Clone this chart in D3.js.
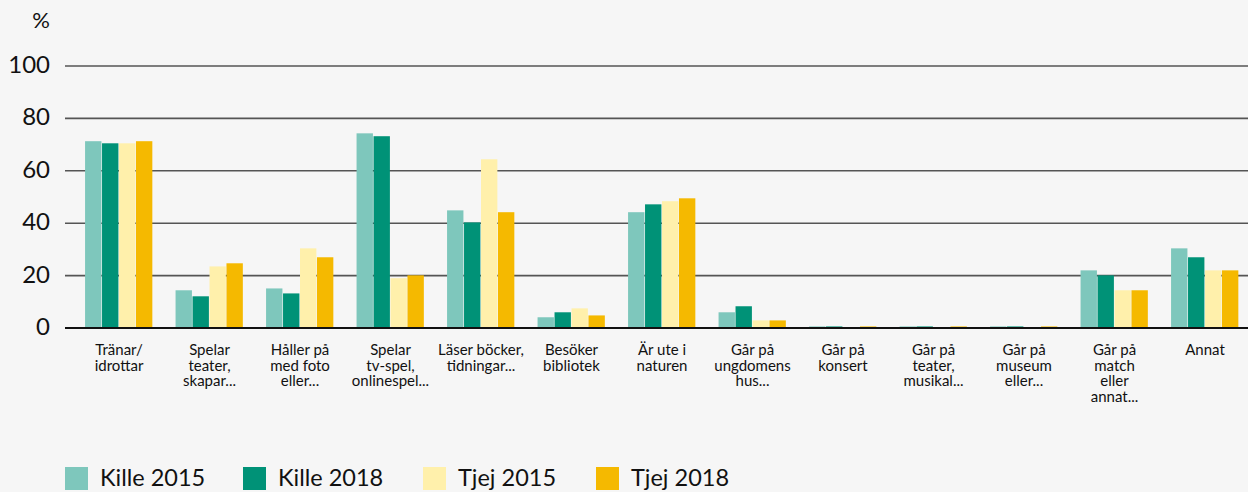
<!DOCTYPE html>
<html><head><meta charset="utf-8">
<script src="https://cdn.jsdelivr.net/npm/d3@7"></script>
<style>
html,body{margin:0;padding:0;background:#f6f6f6;}
svg{display:block;}
text{font-family:Lato,"Open Sans",sans-serif;fill:#111;}
</style></head>
<body>
<svg id="chart" width="1248" height="492"></svg>
<script>
const categories = [
  "Tränar/\nidrottar",
  "Spelar\nteater,\nskapar...",
  "Håller på\nmed foto\neller...",
  "Spelar\ntv-spel,\nonlinespel...",
  "Läser böcker,\ntidningar...",
  "Besöker\nbibliotek",
  "Är ute i\nnaturen",
  "Går på\nungdomens\nhus...",
  "Går på\nkonsert",
  "Går på\nteater,\nmusikal...",
  "Går på\nmuseum\neller...",
  "Går på\nmatch\neller\nannat...",
  "Annat"
];
const seriesNames = ["Kille 2015", "Kille 2018", "Tjej 2015", "Tjej 2018"];
const kille2015 = [71.3, 14.4, 15.1, 74.3, 44.9, 4.1, 44.2, 6.0, 0.6, 0.6, 0.6, 22.0, 30.4];
const kille2018 = [70.5, 12.1, 13.2, 73.2, 40.3, 6.0, 47.2, 8.3, 0.6, 0.6, 0.6, 20.1, 27.0];
const tjej2015  = [70.5, 23.5, 30.4, 19.0, 64.4, 7.5, 48.4, 2.9, 0.3, 0.3, 0.3, 14.4, 22.0];
const tjej2018  = [71.3, 24.7, 27.0, 20.1, 44.2, 4.8, 49.5, 2.9, 0.6, 0.6, 0.6, 14.4, 22.0];
const yTicks = [0, 20, 40, 60, 80, 100];
const unitLabel = "%";

const colors = ["#7ec7bc", "#009277", "#fff0ab", "#f5b900"];
const seriesValues = [kille2015, kille2018, tjej2015, tjej2018];

const svg = d3.select("#chart");
const x0 = d3.scaleBand().domain(d3.range(categories.length))
  .range([73.75, 1250.25]).paddingInner(0.25).paddingOuter(0.125);
const x1 = d3.scaleBand().domain(d3.range(seriesNames.length)).range([0, x0.bandwidth()]);
const y = d3.scaleLinear().domain([0, 100]).range([328, 66]);

// gridlines
svg.append("g").selectAll("line").data(yTicks.filter(d => d > 0)).join("line")
  .attr("x1", 65).attr("x2", 1248)
  .attr("y1", d => y(d)).attr("y2", d => y(d))
  .attr("stroke", "#555").attr("stroke-width", 1.6);

// y labels
svg.append("g").selectAll("text").data(yTicks).join("text")
  .attr("x", 50).attr("y", d => y(d) + 7)
  .attr("text-anchor", "end").style("font-size", "24px")
  .text(d => d);
svg.append("text").attr("x", 50).attr("y", 28).attr("text-anchor", "end")
  .style("font-size", "22px").text(unitLabel);

// bars
const groups = svg.append("g").selectAll("g").data(categories).join("g")
  .attr("transform", (d, i) => `translate(${x0(i)},0)`);
groups.selectAll("rect")
  .data((d, i) => seriesValues.map((s, k) => ({k, v: s[i]})))
  .join("rect")
  .attr("x", d => x1(d.k)).attr("width", x1.bandwidth() - 0.6)
  .attr("y", d => y(d.v)).attr("height", d => y(0) - y(d.v))
  .attr("fill", d => colors[d.k]);

// baseline
svg.append("line").attr("x1", 65).attr("x2", 1248)
  .attr("y1", y(0)).attr("y2", y(0)).attr("stroke", "#111").attr("stroke-width", 2);

// category labels
const lab = svg.append("g").selectAll("text").data(categories).join("text")
  .attr("text-anchor", "middle").style("font-size", "15px")
  .attr("transform", (d, i) => `translate(${x0(i) + x0.bandwidth() / 2},355)`);
lab.selectAll("tspan").data(d => d.split("\n")).join("tspan")
  .attr("x", 0).attr("y", (d, j) => j * 15.7).text(d => d);

// legend
const legX = [65, 243, 423, 596];
const leg = svg.append("g").selectAll("g").data(seriesNames).join("g")
  .attr("transform", (d, i) => `translate(${legX[i]},0)`);
leg.append("rect").attr("x", 0).attr("y", 467).attr("width", 23).attr("height", 23)
  .attr("fill", (d, i) => colors[i]);
leg.append("text").attr("x", 35).attr("y", 486).style("font-size", "23.5px").text(d => d);
</script>
</body></html>
